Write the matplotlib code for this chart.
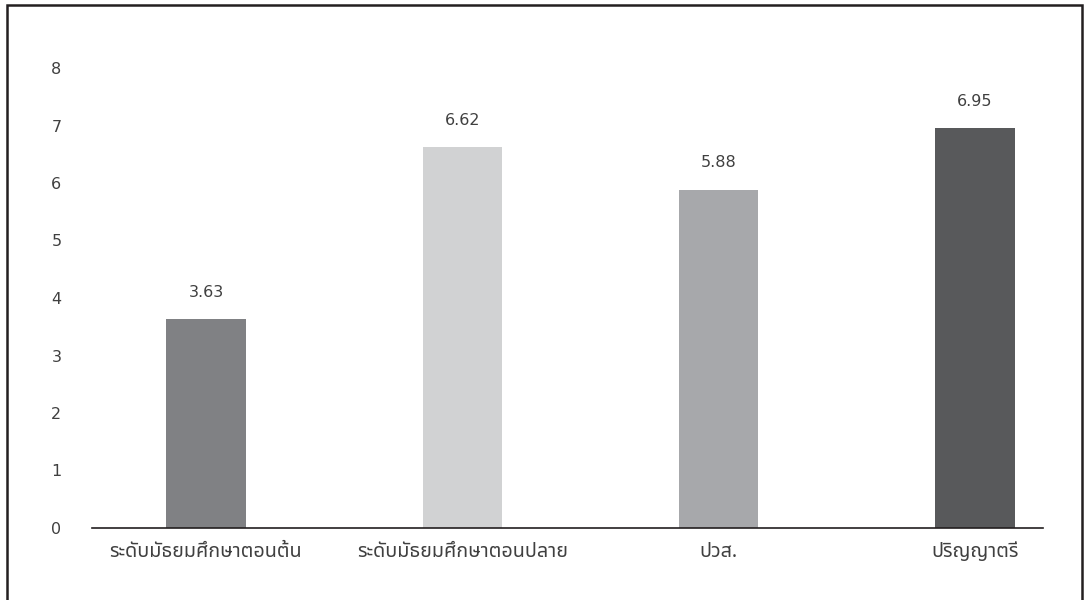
import matplotlib
matplotlib.use("Agg")
import matplotlib.pyplot as plt
from matplotlib import font_manager
from matplotlib.ft2font import FT2Font
from matplotlib.patches import Rectangle

categories = ["ระดับมัธยมศึกษาตอนต้น", "ระดับมัธยมศึกษาตอนปลาย", "ปวส.", "ปริญญาตรี"]
values = [3.63, 6.62, 5.88, 6.95]
value_labels = ["3.63", "6.62", "5.88", "6.95"]
colors = ["#808184", "#d1d2d3", "#a7a8ab", "#58595b"]
yticks = [0, 1, 2, 3, 4, 5, 6, 7, 8]

# find a family that has Thai glyphs
thai_family = None
cands = []
for f in font_manager.fontManager.ttflist:
    try:
        cm = FT2Font(f.fname).get_charmap()
        if 0x0E23 in cm and 0x0E31 in cm:
            cands.append(f.name)
    except Exception:
        pass
pref = ["Noto Sans Thai", "Noto Sans Thai UI", "Loma", "Garuda", "Sarabun", "Tlwg Typist", "Norasi"]
for p in pref:
    if p in cands:
        thai_family = p
        break
if thai_family is None and cands:
    thai_family = cands[0]
fams = ([thai_family] if thai_family else []) + ["DejaVu Sans"]
plt.rcParams["font.family"] = fams

TXT = "#404040"
fig = plt.figure(figsize=(10.85, 6.0), dpi=100)
ax = fig.add_axes([92/1085, 1 - 528/600, (1043-92)/1085, (528-68)/600])

x = list(range(len(categories)))
bars = ax.bar(x, values, width=0.31, color=colors, zorder=2)
for xi, v, lab in zip(x, values, value_labels):
    ax.annotate(lab, (xi, v), xytext=(0, 14), textcoords="offset points",
                ha="center", va="bottom", fontsize=11.5, color=TXT, family=["DejaVu Sans"])

ax.set_xlim(-0.445, 3.265)
ax.set_ylim(0, 8)
ax.set_yticks(yticks)
ax.set_yticklabels([str(t) for t in yticks], family=["DejaVu Sans"])
ax.set_xticks(x)
ax.set_xticklabels(categories, fontsize=14.2)
ax.tick_params(axis="y", length=0, pad=22, labelsize=11.5, labelcolor=TXT)
ax.tick_params(axis="x", length=0, pad=10, labelcolor=TXT)
for s in ["top", "right", "left"]:
    ax.spines[s].set_visible(False)
ax.spines["bottom"].set_color("#231f20")
ax.spines["bottom"].set_linewidth(1.2)
ax.spines["bottom"].set_zorder(3)

fig.patches.append(Rectangle((7/1085, -0.05), (1082-7)/1085, 1 - 5/600 + 0.05,
                             transform=fig.transFigure, fill=False,
                             edgecolor="#231f20", linewidth=1.8))
if thai_family is None:
    fig.text(0.5, 0.5, "no thai", color="red")
fig.savefig("out.png", dpi=100)
